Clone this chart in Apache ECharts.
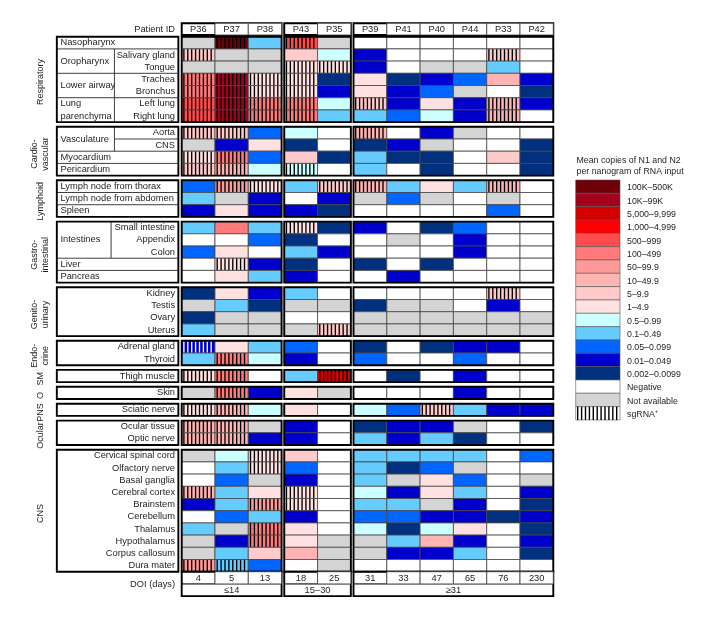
<!DOCTYPE html>
<html><head><meta charset="utf-8">
<script src="https://cdn.jsdelivr.net/npm/echarts@6/dist/echarts.min.js"></script>
<style>html,body{margin:0;padding:0;background:#fff}#c{width:712px;height:619px}</style>
</head><body><div id="c"></div>
<script>
// ---------------- DATA ----------------
const patients = ['P36','P37','P38','P43','P35','P39','P41','P40','P44','P33','P42'];
const doiDays = [4,5,13,18,25,31,33,47,65,76,230];
const doiGroups = ['≤14','15–30','≥31'];
const doiGroupSizes = [3,2,6];

const levelLabels = ['100K–500K','10K–99K','5,000–9,999','1,000–4,999','500–999','100–499','50–99.9','10–49.9','5–9.9','1–4.9','0.5–0.99','0.1–0.49','0.05–0.099','0.01–0.049','0.002–0.0099','Negative','Not available'];
const levelColors = ['#6e000a','#a3001e','#d20000','#ff0000','#ff4b4b','#ff7a7a','#ff9a9a','#ffb4b4','#ffcaca','#ffe1e1','#ccffff','#66ccff','#0066ff','#0000cc','#00307e','#ffffff','#d4d4d4'];
const hatchLabel = 'sgRNA⁺';

// [organ system, tissue group, tissue]
const tissueRows = [
 ['Respiratory','Nasopharynx',''],
 ['Respiratory','Oropharynx','Salivary gland'],
 ['Respiratory','Oropharynx','Tongue'],
 ['Respiratory','Lower airway','Trachea'],
 ['Respiratory','Lower airway','Bronchus'],
 ['Respiratory','Lung\nparenchyma','Left lung'],
 ['Respiratory','Lung\nparenchyma','Right lung'],
 ['Cardio-\nvascular','Vasculature','Aorta'],
 ['Cardio-\nvascular','Vasculature','CNS'],
 ['Cardio-\nvascular','Myocardium',''],
 ['Cardio-\nvascular','Pericardium',''],
 ['Lymphoid','Lymph node from thorax',''],
 ['Lymphoid','Lymph node from abdomen',''],
 ['Lymphoid','Spleen',''],
 ['Gastro-\nintestinal','Intestines','Small intestine'],
 ['Gastro-\nintestinal','Intestines','Appendix'],
 ['Gastro-\nintestinal','Intestines','Colon'],
 ['Gastro-\nintestinal','Liver',''],
 ['Gastro-\nintestinal','Pancreas',''],
 ['Genito-\nurinary','','Kidney'],
 ['Genito-\nurinary','','Testis'],
 ['Genito-\nurinary','','Ovary'],
 ['Genito-\nurinary','','Uterus'],
 ['Endo-\ncrine','','Adrenal gland'],
 ['Endo-\ncrine','','Thyroid'],
 ['SM','','Thigh muscle'],
 ['O','','Skin'],
 ['PNS','','Sciatic nerve'],
 ['Ocular','','Ocular tissue'],
 ['Ocular','','Optic nerve'],
 ['CNS','','Cervical spinal cord'],
 ['CNS','','Olfactory nerve'],
 ['CNS','','Basal ganglia'],
 ['CNS','','Cerebral cortex'],
 ['CNS','','Brainstem'],
 ['CNS','','Cerebellum'],
 ['CNS','','Thalamus'],
 ['CNS','','Hypothalamus'],
 ['CNS','','Corpus callosum'],
 ['CNS','','Dura mater']
];

// level index per patient; suffix 's' = sgRNA+ (hatched)
const respiratoryVals = [
 [16,'0s',11,'4s',16,15,15,15,15,15,15],
 ['8s',16,16,8,10,13,15,15,15,'8s',15],
 [16,16,16,'9s','9s',13,15,16,16,11,15],
 ['5s','1s','9s','9s',14,9,14,13,12,7,13],
 ['5s','1s','9s','9s',13,9,13,12,16,15,14],
 ['4s','1s','5s','5s',10,'8s',13,9,13,'7s',13],
 ['4s','1s','5s','5s',11,11,12,10,13,'7s',15]
];
const cardioVals = [
 ['8s','8s',12,10,15,'7s',15,13,16,15,15],
 [16,13,9,14,15,14,13,16,15,15,14],
 ['9s','5s',12,8,14,11,14,14,15,8,14],
 ['8s','7s',10,'10s',15,11,15,14,15,15,14]
];
const lymphoidVals = [
 [12,'6s','9s',11,'8s','7s',11,9,11,'7s',15],
 [11,16,13,15,13,16,12,16,15,16,15],
 [13,9,13,13,14,15,15,15,15,12,15]
];
const gastroVals = [
 [11,5,11,'9s',14,13,15,14,12,15,15],
 [15,15,12,14,15,15,16,15,13,15,15],
 [12,9,15,11,13,15,15,15,13,15,15],
 [15,'9s',13,14,15,14,15,14,15,15,15],
 [15,9,11,13,15,15,13,15,15,15,15]
];
const genitoVals = [
 [14,9,13,11,15,15,15,15,15,'8s',15],
 [16,11,14,16,16,14,16,16,15,13,15],
 [14,16,16,15,15,16,16,16,16,16,16],
 [11,16,16,16,'8s',16,16,16,16,16,16]
];
const endocrineVals = [
 ['13s',9,11,12,15,14,15,14,13,13,15],
 [11,'5s',10,13,15,12,15,15,12,15,15]
];
const muscleVals = [['9s','5s',15,11,'2s',15,14,15,13,15,15]];
const skinVals = [[16,'5s',13,9,16,15,15,15,13,15,15]];
const pnsVals = [['9s','7s',10,9,15,10,12,'8s',11,13,13]];
const ocularVals = [
 ['7s','7s',16,13,15,14,13,13,16,15,14],
 ['7s','7s',13,13,15,11,13,11,14,15,15]
];
const cnsVals = [
 [16,10,'9s',8,15,11,11,11,11,15,12],
 [15,11,'9s',12,15,11,14,12,16,15,15],
 [15,12,16,13,15,11,16,9,12,15,16],
 ['7s',11,9,'9s',15,10,13,9,11,15,13],
 [13,11,'6s','9s',15,11,11,16,13,15,14],
 [15,12,11,13,15,12,12,13,13,14,13],
 [11,16,'5s',9,15,10,14,10,9,15,14],
 [16,13,'5s',9,16,16,11,7,13,15,13],
 [16,11,8,7,16,16,13,13,11,15,14],
 ['6s','11s',12,15,16,15,15,15,15,15,15]
];

// ---------------- LAYOUT HELPERS ----------------
const allRows = [].concat(respiratoryVals, cardioVals, lymphoidVals, gastroVals, genitoVals,
  endocrineVals, muscleVals, skinVals, pnsVals, ocularVals, cnsVals);
const N = tissueRows.length;
const CG = 0.08, RG = 0.385;
const groupNames = [];
const rowGroupIdx = tissueRows.map(t => { let i = groupNames.indexOf(t[0]); if (i < 0) { groupNames.push(t[0]); i = groupNames.length - 1; } return i; });
const groupStart = groupNames.map((g, i) => rowGroupIdx.indexOf(i));
const groupSize = groupNames.map((g, i) => rowGroupIdx.filter(v => v === i).length);
const colGroupIdx = []; doiGroupSizes.forEach((s, g) => { for (let k = 0; k < s; k++) colGroupIdx.push(g); });
const colGroupStart = doiGroupSizes.map((s, g) => colGroupIdx.indexOf(g));
const rowPos = r => r + RG * rowGroupIdx[r];
const colPos = c => c + CG * colGroupIdx[c];
const END = rowPos(N - 1) + 1;
const HEAD0 = -1.1, HEAD1 = -0.14;
const PX0 = -3.75, PX1 = -0.1, TXT_L = -3.64, TXT_R = -0.2, GLAB_X = -4.25, GLAB_DY = 0.22;
const subDivider = { 'Intestines': -2.12 };
const ruledSubs = ['Vasculature'];
const FONT = '9.3px "Liberation Sans", Arial, Helvetica, sans-serif';
const GFONT = '9px "Liberation Sans", Arial, Helvetica, sans-serif';
const TXT = '#1e1e1e';
const FRAME = { stroke: '#000', lineWidth: 1.9, fill: 'none' };

function txt(p, text, align, extra) {
  return { type: 'text', x: p[0], y: p[1], style: Object.assign({ text, fill: TXT, font: FONT, align, verticalAlign: 'middle' }, extra || {}) };
}
function rectBetween(a, b, style) {
  return { type: 'rect', shape: { x: a[0], y: a[1], width: b[0] - a[0], height: b[1] - a[1] }, style };
}
function line(a, b, style) {
  return { type: 'line', shape: { x1: a[0], y1: a[1], x2: b[0], y2: b[1] }, style: Object.assign({ stroke: '#2a2a2a', lineWidth: 0.9 }, style || {}) };
}

// cells
const cellData = [];
allRows.forEach((row, r) => row.forEach((v, c) => {
  const s = String(v);
  cellData.push([c, r, parseInt(s, 10), s.endsWith('s') ? 1 : 0]);
}));

function renderCell(params, api) {
  const c = api.value(0), r = api.value(1), lvl = api.value(2), hatch = api.value(3);
  const x0 = colPos(c), y0 = rowPos(r);
  const a = api.coord([x0, y0]), b = api.coord([x0 + 1, y0 + 1]);
  const ch = [rectBetween(a, b, { fill: levelColors[lvl] })];
  if (hatch) {
    const sc = (lvl === 13 || lvl === 14) ? '#ffffff' : '#000000';
    for (let x = a[0] + 2.2; x < b[0] - 1; x += 3.9) {
      ch.push(line([x, a[1]], [x, b[1]], { stroke: sc, lineWidth: 1.35 }));
    }
  }
  ch.push(rectBetween(a, b, { fill: 'none', stroke: '#464646', lineWidth: 0.8 }));
  return { type: 'group', children: ch };
}

// frames around blocks
const blockData = [];
groupNames.forEach((g, gi) => doiGroupSizes.forEach((s, cg) => blockData.push([gi, cg])));
function renderBlock(params, api) {
  const gi = api.value(0), cg = api.value(1);
  const y0 = rowPos(groupStart[gi]), y1 = y0 + groupSize[gi];
  const x0 = colPos(colGroupStart[cg]), x1 = x0 + doiGroupSizes[cg];
  return rectBetween(api.coord([x0, y0]), api.coord([x1, y1]), FRAME);
}

// left label panel
function renderPanel(params, api) {
  const r = api.value(0);
  const [grp, sub, tis] = tissueRows[r];
  const y0 = rowPos(r), ch = [];
  if (tis) ch.push(txt(api.coord([TXT_R, y0 + 0.5]), tis, 'right'));
  else ch.push(txt(api.coord([TXT_L, y0 + 0.5]), sub, 'left'));
  if (sub && tis && (r === 0 || tissueRows[r - 1][1] !== sub)) {
    let n = 1; while (r + n < N && tissueRows[r + n][1] === sub) n++;
    const dx = subDivider[sub] !== undefined ? subDivider[sub] : -2.02;
    ch.push(txt(api.coord([TXT_L, y0 + n / 2]), sub, 'left', { lineHeight: 12.2 }));
    ch.push(line(api.coord([dx, y0]), api.coord([dx, y0 + n])));
    if (ruledSubs.indexOf(sub) >= 0) for (let k = 1; k < n; k++) ch.push(line(api.coord([dx, y0 + k]), api.coord([PX1, y0 + k])));
  }
  if (r + 1 < N && rowGroupIdx[r + 1] === rowGroupIdx[r] && tissueRows[r + 1][1] !== sub) {
    ch.push(line(api.coord([PX0, y0 + 1]), api.coord([PX1, y0 + 1])));
  }
  const gi = rowGroupIdx[r];
  if (groupStart[gi] === r) {
    ch.push(rectBetween(api.coord([PX0, y0]), api.coord([PX1, y0 + groupSize[gi]]), FRAME));
    const p = api.coord([GLAB_X, y0 + groupSize[gi] / 2 + GLAB_DY]);
    ch.push({ type: 'text', x: p[0], y: p[1], rotation: Math.PI / 2,
      style: { text: grp, fill: TXT, font: GFONT, align: 'center', verticalAlign: 'middle', lineHeight: 11 } });
  }
  return { type: 'group', children: ch };
}

// header with patient IDs and footer with DOI
function renderHeadFoot(params, api) {
  const c = api.value(0);
  const x0 = colPos(c), ch = [];
  ch.push(rectBetween(api.coord([x0, HEAD0]), api.coord([x0 + 1, HEAD1]), { fill: '#fff', stroke: '#3a3a3a', lineWidth: 0.8 }));
  ch.push(txt(api.coord([x0 + 0.5, (HEAD0 + HEAD1) / 2]), patients[c], 'center'));
  ch.push(rectBetween(api.coord([x0, END]), api.coord([x0 + 1, END + 1]), { fill: '#fff', stroke: '#3a3a3a', lineWidth: 0.8 }));
  ch.push(txt(api.coord([x0 + 0.5, END + 0.55]), String(doiDays[c]), 'center'));
  const cg = colGroupIdx[c];
  if (colGroupStart[cg] === c) {
    const x1 = x0 + doiGroupSizes[cg];
    ch.push(line(api.coord([x0, END + 1]), api.coord([x1, END + 1])));
    ch.push(txt(api.coord([(x0 + x1) / 2, END + 1.55]), doiGroups[cg], 'center'));
    ch.push(rectBetween(api.coord([x0, HEAD0]), api.coord([x1, HEAD1]), FRAME));
    ch.push(rectBetween(api.coord([x0, END]), api.coord([x1, END + 2]), FRAME));
  }
  if (c === 0) {
    ch.push(txt(api.coord([TXT_R, (HEAD0 + HEAD1) / 2]), 'Patient ID', 'right'));
    ch.push(txt(api.coord([TXT_R, END + 1.05]), 'DOI (days)', 'right'));
  }
  return { type: 'group', children: ch };
}

// legend (graphic)
const legendEls = [];
const LX = 575.7, LY = 180, LW = 44.3, LH = 13.33;
const LFONT = '8.8px "Liberation Sans", Arial, Helvetica, sans-serif';
legendEls.push({ type: 'text', left: 576.5, top: 155.5, style: { text: 'Mean copies of N1 and N2\nper nanogram of RNA input', fill: TXT, font: LFONT, lineHeight: 10.8 } });
levelLabels.concat([hatchLabel]).forEach((lab, i) => {
  const y = LY + i * LH;
  if (i < levelLabels.length) {
    legendEls.push({ type: 'rect', shape: { x: LX, y, width: LW, height: LH }, style: { fill: levelColors[i], stroke: '#555', lineWidth: 0.6 } });
  } else {
    legendEls.push({ type: 'rect', shape: { x: LX, y, width: LW, height: LH }, style: { fill: '#fff', stroke: '#555', lineWidth: 0.6 } });
    for (let x = LX + 2; x < LX + LW - 1; x += 3.9) legendEls.push({ type: 'line', shape: { x1: x, y1: y, x2: x, y2: y + LH }, style: { stroke: '#000', lineWidth: 1.4 } });
  }
  legendEls.push({ type: 'text', x: LX + LW + 7, y: y + LH / 2 + 1.2, style: { text: lab, fill: TXT, font: LFONT, align: 'left', verticalAlign: 'middle' } });
});

const chart = echarts.init(document.getElementById('c'), null, { renderer: 'canvas' });
chart.setOption({
  animation: false,
  backgroundColor: '#fff',
  grid: { left: 48.5, right: 158.7, top: 22.06, bottom: 21.04, containLabel: false },
  xAxis: { type: 'value', min: -4, max: 11.16, show: false },
  yAxis: { type: 'value', min: -1.2, max: 46, inverse: true, show: false },
  graphic: { elements: legendEls },
  series: [
    { type: 'custom', name: 'cells', data: cellData, renderItem: renderCell, z: 2, silent: true },
    { type: 'custom', name: 'blocks', data: blockData, renderItem: renderBlock, z: 3, silent: true },
    { type: 'custom', name: 'panel', data: tissueRows.map((t, r) => [r]), renderItem: renderPanel, z: 3, silent: true },
    { type: 'custom', name: 'headfoot', data: patients.map((p, c) => [c]), renderItem: renderHeadFoot, z: 3, silent: true }
  ]
});
</script></body></html>
